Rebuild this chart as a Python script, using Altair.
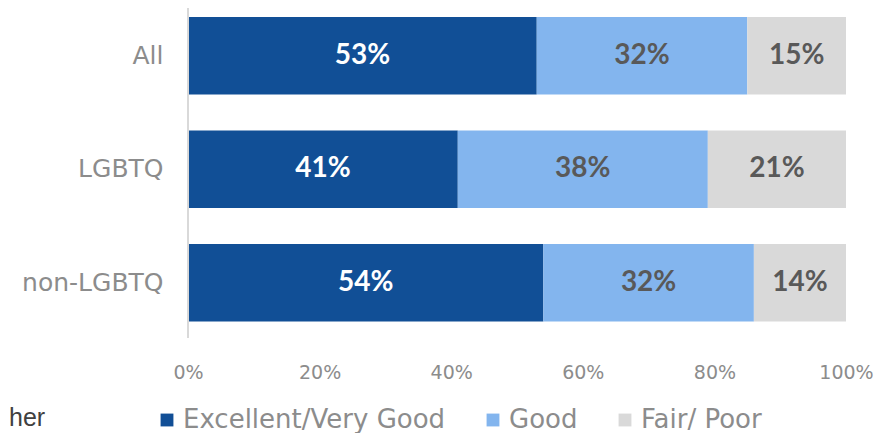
import altair as alt
import pandas as pd

groups = ["All", "LGBTQ", "non-LGBTQ"]
ratings = ["Excellent/Very Good", "Good", "Fair/ Poor"]
excellent = [53, 41, 54]
good = [32, 38, 32]
fair = [15, 21, 14]
colors = ["#114F96", "#83B5EE", "#D9D9D9"]
x_ticks = [0, 0.2, 0.4, 0.6, 0.8, 1.0]
cut_text = "her"

rows = []
for gi, g in enumerate(groups):
    for ri, (r, vals) in enumerate(zip(ratings, [excellent, good, fair])):
        rows.append({"group": g, "rating": r, "order": ri, "value": vals[gi] / 100})
df = pd.DataFrame(rows)

FONT = "DejaVu Sans"
BOLD_FONT = "Lato"

base = alt.Chart(df).transform_stack(
    stack="value", groupby=["group"], as_=["x0", "x1"],
    sort=[alt.SortField("order", order="ascending")]
).transform_calculate(mid="(datum.x0 + datum.x1) / 2")

yenc = alt.Y(
    "group:N", sort=groups, title=None,
    scale=alt.Scale(paddingInner=0.317, paddingOuter=0.112, align=0.353),
    axis=alt.Axis(labelFontSize=25, labelColor="#8C8C8C", labelFont=FONT,
                  labelFontWeight="normal", ticks=False, domain=False,
                  labelPadding=25),
)

bars = base.mark_bar().encode(
    x=alt.X("x0:Q", title=None,
            scale=alt.Scale(domain=[0, 1], nice=False),
            axis=alt.Axis(values=x_ticks, format=".0%", labelFontSize=19,
                          labelColor="#8C8C8C", labelFont=FONT, grid=False,
                          labelFlush=False, ticks=False, domain=False,
                          labelPadding=25)),
    x2="x1:Q",
    y=yenc,
    color=alt.Color("rating:N", sort=ratings,
                    scale=alt.Scale(domain=ratings, range=colors),
                    legend=alt.Legend(orient="none", legendX=-34, legendY=399,
                                      direction="horizontal", title=None,
                                      symbolType="square", symbolSize=165,
                                      symbolStrokeWidth=0, labelFontSize=26,
                                      labelFont=FONT, labelColor="#8C8C8C",
                                      labelLimit=500, columnPadding=34,
                                      labelOffset=3, symbolOpacity=1)),
)

labels = base.mark_text(fontSize=28, fontWeight="bold", font=BOLD_FONT).encode(
    x="mid:Q",
    y=alt.Y("group:N", sort=groups),
    text=alt.Text("value:Q", format=".0%"),
    color=alt.condition(alt.datum.rating == "Excellent/Very Good",
                        alt.value("#FFFFFF"), alt.value("#595959")),
)

axis_line = alt.Chart(pd.DataFrame({"a": [0]})).mark_rule(
    color="#D9D9D9", strokeWidth=2
).encode(x=alt.value(0), y=alt.value(-8), y2=alt.value(330))

cut = alt.Chart(pd.DataFrame({"t": [cut_text]})).mark_text(
    align="left", baseline="middle", fontSize=25, font="Liberation Sans",
    color="#404040"
).encode(x=alt.value(-179), y=alt.value(410), text="t:N")

chart = alt.layer(bars, labels, axis_line, cut).properties(
    width=658, height=330,
    autosize=alt.AutoSizeParams(type="none"),
    padding={"left": 180, "top": 0, "right": 30, "bottom": 95},
).configure_view(stroke=None)

chart.save("out.html", embed_options={"renderer": "svg", "actions": False})
